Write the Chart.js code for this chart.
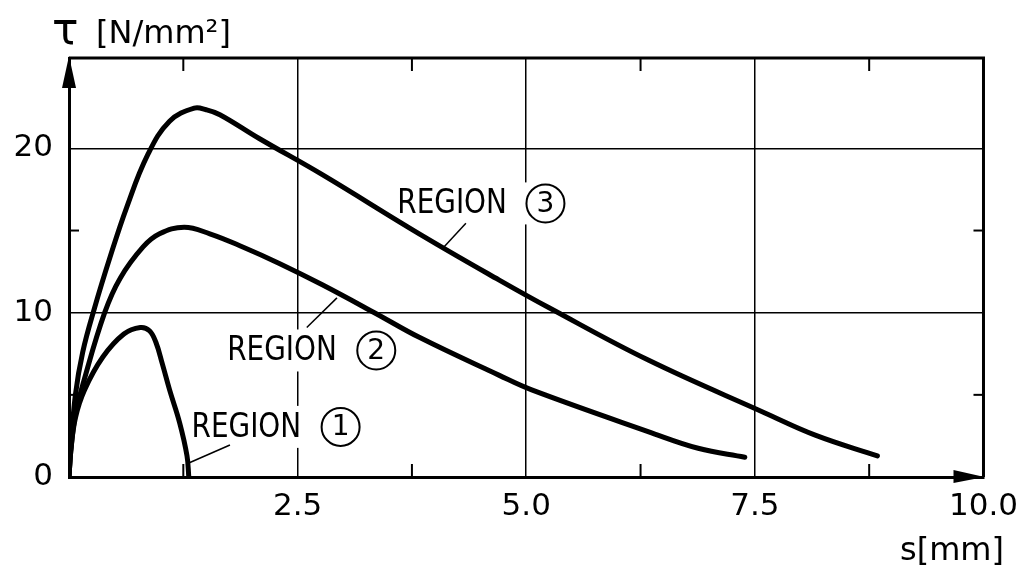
<!DOCTYPE html>
<html>
<head>
<meta charset="utf-8">
<script src="https://cdn.jsdelivr.net/npm/chart.js@4.4.1/dist/chart.umd.min.js"></script>
<style>
  html, body { margin: 0; padding: 0; background: #fff; }
  #wrap { width: 1029px; height: 567px; position: relative; }
</style>
</head>
<body>
<div id="wrap"><canvas id="myChart"></canvas></div>
<script>
// slip s [mm] against shear stress tau [N/mm2]
const region1S   = [0, 0.02, 0.07, 0.17, 0.37, 0.60, 0.78, 0.88, 0.95, 1.02, 1.10, 1.21, 1.29, 1.31];
const region1Tau = [0, 1.6, 3.6, 5.3, 7.3, 8.7, 9.1, 8.9, 8.2, 6.9, 5.3, 3.3, 1.3, 0];

const region2S   = [0, 0.02, 0.07, 0.16, 0.39, 0.56, 0.81, 0.99, 1.26, 1.54, 1.90, 2.30, 2.77, 3.34, 3.83, 4.70, 5.06, 6.34, 6.88, 7.39];
const region2Tau = [0, 1.6, 3.8, 5.8, 10.0, 12.1, 14.0, 14.8, 15.2, 14.8, 14.0, 13.0, 11.7, 10.0, 8.5, 6.2, 5.3, 2.75, 1.75, 1.2];

const region3S   = [0, 0.02, 0.07, 0.15, 0.28, 0.45, 0.63, 0.86, 1.10, 1.37, 1.50, 1.65, 2.08, 2.77, 3.83, 4.70, 5.25, 6.34, 7.61, 8.16, 8.84];
const region3Tau = [0, 1.8, 5.0, 7.6, 10.3, 13.4, 16.4, 19.6, 21.65, 22.45, 22.35, 22.05, 20.6, 18.4, 14.8, 12.0, 10.3, 7.1, 3.9, 2.55, 1.28];

const xTicks = [0, 1.25, 2.5, 3.75, 5, 6.25, 7.5, 8.75, 10];
const xLabelled = [2.5, 5, 7.5, 10];
const yTicks = [0, 5, 10, 15, 20];
const yLabelled = [0, 10, 20];

// label anchors in data units
const notes = [
  { digit: '1', textS: 1.34, tau: 3.05, circleS: 2.97, lead: [1.76, 1.95, 1.31, 0.85] },
  { digit: '2', textS: 1.73, tau: 7.7,  circleS: 3.36, lead: [2.60, 9.1, 2.93, 10.9] },
  { digit: '3', textS: 3.59, tau: 16.65, circleS: 5.21, lead: [4.34, 15.45, 4.10, 14.0] }
];

const FONT = '"DejaVu Sans", sans-serif';

function pts(xs, ys) {
  return xs.map((v, i) => ({ x: v, y: ys[i] }));
}

function seg(ctx, x1, y1, x2, y2) {
  ctx.beginPath(); ctx.moveTo(x1, y1); ctx.lineTo(x2, y2); ctx.stroke();
}

const decor = {
  id: 'decor',
  beforeDatasetsDraw(chart) {
    const { ctx, chartArea: a, scales: { x, y } } = chart;
    ctx.save();
    ctx.strokeStyle = '#000';
    ctx.fillStyle = '#000';

    // top and right of the frame
    ctx.lineWidth = 3;
    ctx.beginPath();
    ctx.moveTo(a.left, a.top); ctx.lineTo(a.right, a.top); ctx.lineTo(a.right, a.bottom);
    ctx.stroke();

    // short inward ticks
    ctx.lineWidth = 2;
    xTicks.filter(v => v % 2.5 !== 0).forEach(v => {
      const px = x.getPixelForValue(v);
      seg(ctx, px, a.top, px, a.top + 13);
      seg(ctx, px, a.bottom, px, a.bottom - 13);
    });
    yTicks.filter(v => v % 10 !== 0).forEach(v => {
      const py = y.getPixelForValue(v);
      seg(ctx, a.left, py, a.left + 10, py);
      seg(ctx, a.right, py, a.right - 10, py);
    });

    // arrow heads
    ctx.beginPath();
    ctx.moveTo(a.left, a.top - 2); ctx.lineTo(a.left - 7, a.top + 30); ctx.lineTo(a.left + 7, a.top + 30);
    ctx.closePath(); ctx.fill();
    ctx.beginPath();
    ctx.moveTo(a.right + 1, a.bottom); ctx.lineTo(a.right - 30, a.bottom - 7); ctx.lineTo(a.right - 30, a.bottom + 6);
    ctx.closePath(); ctx.fill();

    // region labels
    notes.forEach(n => {
      const tx = x.getPixelForValue(n.textS);
      const ty = y.getPixelForValue(n.tau);
      const cx = x.getPixelForValue(n.circleS);
      ctx.fillStyle = '#fff';
      ctx.fillRect(tx - 4, ty - 21, cx + 23 - (tx - 4), 42);
      ctx.fillStyle = '#000';
      ctx.font = '34px ' + FONT;
      ctx.textBaseline = 'middle';
      ctx.textAlign = 'left';
      ctx.save();
      ctx.translate(tx, ty + 1);
      ctx.scale(0.82, 1);
      ctx.fillText('REGION', 0, 0);
      ctx.restore();
      ctx.lineWidth = 2;
      ctx.beginPath(); ctx.arc(cx, ty, 19, 0, Math.PI * 2); ctx.stroke();
      ctx.font = '28px ' + FONT;
      ctx.textAlign = 'center';
      ctx.fillText(n.digit, cx, ty + 1);
      ctx.lineWidth = 1.5;
      seg(ctx, x.getPixelForValue(n.lead[0]), y.getPixelForValue(n.lead[1]),
               x.getPixelForValue(n.lead[2]), y.getPixelForValue(n.lead[3]));
    });

    // axis titles
    ctx.textAlign = 'left';
    ctx.textBaseline = 'alphabetic';
    ctx.font = '44px ' + FONT;
    ctx.fillText('τ', 52, 44);
    ctx.font = '32px ' + FONT;
    ctx.fillText('[N/mm²]', 96, 43);
    ctx.fillText('s[mm]', 900, 560);
    ctx.restore();
  }
};

const line = (label, data) => ({
  label, data,
  borderColor: '#000',
  borderWidth: 5,
  borderCapStyle: 'round',
  borderJoinStyle: 'round',
  pointRadius: 0,
  tension: 0.4,
  fill: false
});

new Chart(document.getElementById('myChart'), {
  type: 'line',
  data: {
    datasets: [
      line('REGION 1', pts(region1S, region1Tau)),
      line('REGION 2', pts(region2S, region2Tau)),
      line('REGION 3', pts(region3S, region3Tau))
    ]
  },
  options: {
    responsive: true,
    maintainAspectRatio: false,
    animation: false,
    layout: { padding: { left: 0, top: 58, right: 43, bottom: 0 } },
    plugins: { legend: { display: false }, tooltip: { enabled: false } },
    scales: {
      x: {
        type: 'linear', min: 0, max: 10,
        afterBuildTicks: s => { s.ticks = xTicks.map(v => ({ value: v })); },
        afterFit: s => { s.height = 90; },
        ticks: {
          autoSkip: false, maxRotation: 0, padding: 11, color: '#000',
          font: { family: FONT, size: 31 },
          callback: v => xLabelled.includes(v) ? v.toFixed(1) : ''
        },
        grid: {
          drawTicks: false, lineWidth: 1.5,
          color: c => (c.tick && c.tick.value % 2.5 === 0 && c.tick.value > 0 && c.tick.value < 10) ? '#000' : 'rgba(0,0,0,0)'
        },
        border: { color: '#000', width: 3 }
      },
      y: {
        min: 0, max: 25.5,
        afterBuildTicks: s => { s.ticks = yTicks.map(v => ({ value: v })); },
        afterFit: s => { s.width = 69; },
        ticks: {
          autoSkip: false, padding: 16, color: '#000',
          font: { family: FONT, size: 31 },
          callback: v => yLabelled.includes(v) ? String(v) : ''
        },
        grid: {
          drawTicks: false, lineWidth: 1.5,
          color: c => (c.tick && (c.tick.value === 10 || c.tick.value === 20)) ? '#000' : 'rgba(0,0,0,0)'
        },
        border: { color: '#000', width: 3 }
      }
    }
  },
  plugins: [decor]
});
</script>
</body>
</html>
